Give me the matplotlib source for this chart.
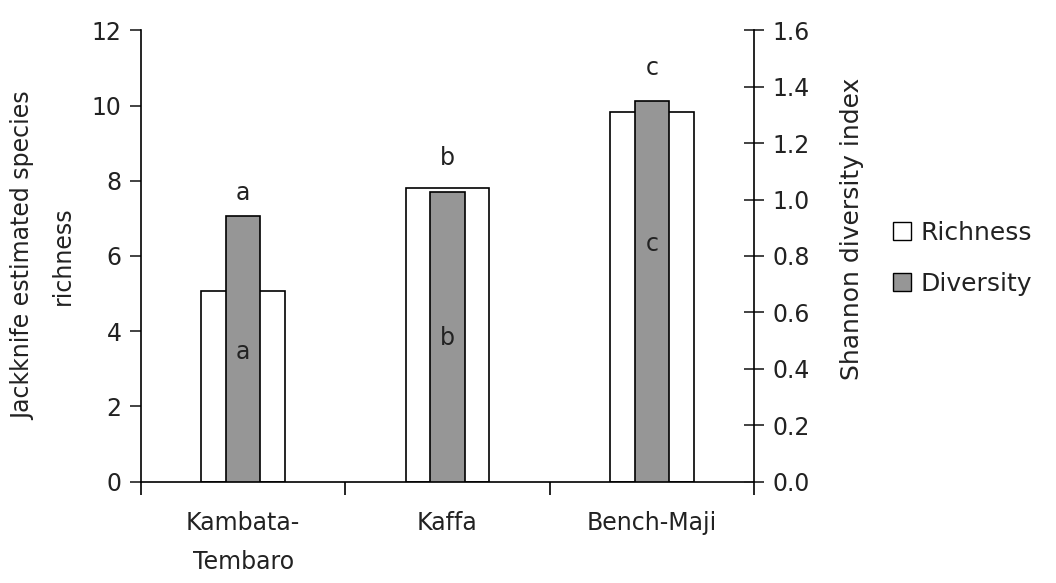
import matplotlib.pyplot as plt
import matplotlib.patches as mpatches
import numpy as np

plt.rcParams['font.family'] = ['DejaVu Sans']

sites = ["Kambata-\nTembaro", "Kaffa", "Bench-Maji"]
richness = [5.07, 7.8, 9.83]
diversity = [0.94, 1.025, 1.35]
top_letters = ["a", "b", "c"]
inner_letters = ["a", "b", "c"]

gray = "#969696"
txt = "#222222"
fs = 17

fig = plt.figure(figsize=(10.56, 5.83), dpi=100)
ax = fig.add_axes([0.1335, 0.174, 0.5805, 0.774])
x = np.arange(len(sites))

ax.bar(x, richness, width=0.41, color="white", edgecolor="black", linewidth=1.2, zorder=2)
ax.set_ylim(0, 12)
ax.set_xlim(-0.5, 2.5)
ax.set_yticks(range(0, 13, 2))
ax.tick_params(axis="y", direction="out", length=8, width=1.2, labelsize=fs, pad=6, colors=txt)

# category ticks at boundaries, labels centred
ax.set_xticks([-0.5, 0.5, 1.5, 2.5])
ax.set_xticklabels([])
ax.tick_params(axis="x", which="major", direction="out", length=9, width=1.2)
ax.set_xticks(x, minor=True)
ax.set_xticklabels(sites, minor=True, fontsize=fs, color=txt, linespacing=1.8)
ax.tick_params(axis="x", which="minor", length=0, pad=21)

for s in ["top", "right"]:
    ax.spines[s].set_visible(False)
for s in ["left", "bottom"]:
    ax.spines[s].set_linewidth(1.2)

ax.set_ylabel("Jackknife estimated species\nrichness", fontsize=fs, color=txt, labelpad=12,
              linespacing=1.85)

ax2 = ax.twinx()
ax2.bar(x, diversity, width=0.167, color=gray, edgecolor="black", linewidth=1.2, zorder=3)
ax2.set_ylim(0, 1.6)
ax2.set_yticks(np.arange(0, 1.61, 0.2))
ax2.set_yticklabels([f"{v:.1f}" for v in np.arange(0, 1.61, 0.2)])
ax2.tick_params(axis="y", direction="inout", length=14, width=1.2, labelsize=fs, pad=6, colors=txt)
for s in ["top", "left", "bottom"]:
    ax2.spines[s].set_visible(False)
ax2.spines["right"].set_linewidth(1.2)
ax2.set_ylabel("Shannon diversity index", fontsize=fs + 1, color=txt)
ax2.yaxis.set_label_coords(1.14, 0.56)

# significance letters
top_y = [7.68, 8.61, 11.0]
inner_y = [3.45, 3.82, 6.33]
for i in range(len(sites)):
    ax2.text(x[i], top_y[i] / 7.5, top_letters[i], ha="center", va="center", fontsize=fs, color=txt)
    ax2.text(x[i], inner_y[i] / 7.5, inner_letters[i], ha="center", va="center", fontsize=fs, color=txt)

handles = [mpatches.Patch(facecolor="white", edgecolor="black", label="Richness"),
           mpatches.Patch(facecolor=gray, edgecolor="black", label="Diversity")]
fig.legend(handles=handles, loc="center left", bbox_to_anchor=(0.846, 0.557), frameon=False,
           fontsize=fs + 1, handlelength=0.72, handleheight=0.72, handletextpad=0.35, labelspacing=1.1,
           labelcolor=txt, borderpad=0, borderaxespad=0)

fig.savefig("out.png", dpi=100)
